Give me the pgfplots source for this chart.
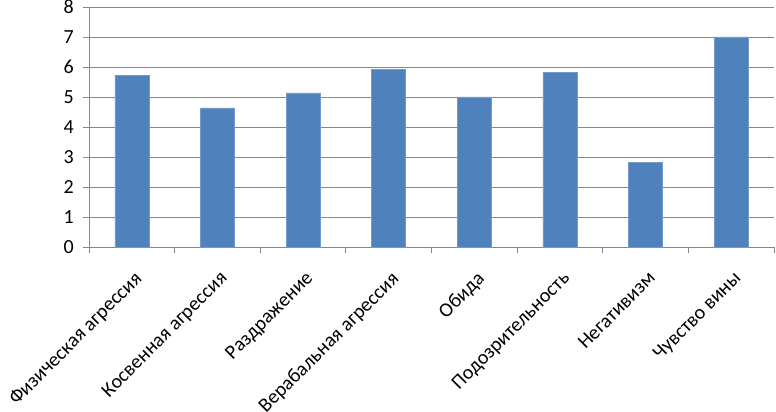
\documentclass[border=0pt]{standalone}
\usepackage{pgfplots}
\pgfplotsset{compat=1.18}
\usepackage{fontspec}
\setmainfont{Carlito}
\definecolor{barblue}{RGB}{79,129,189}
\definecolor{gridgray}{RGB}{134,134,134}
\begin{document}
\begin{tikzpicture}
\begin{axis}[
  name=ax,
  scale only axis,
  width=685pt, height=240pt,
  xmin=-0.5, xmax=7.5,
  ymin=0, ymax=8,
  ytick={0,1,...,8},
  xtick={0,1,...,7},
  xticklabels={Физическая агрессия,Косвенная агрессия,Раздражение,Верабальная агрессия,Обида,Подозрительность,Негативизм,Чувство вины},
  minor xtick={-0.5,0.5,...,7.5},
  major x tick style={draw=none},
  major tick length=6pt,
  minor tick length=6pt,
  tick align=outside,
  axis x line*=bottom,
  axis y line*=left,
  axis line style={gridgray, line width=0.8pt},
  every tick/.style={gridgray, line width=0.8pt},
  ymajorgrids,
  major grid style={gridgray, line width=0.8pt},
  ybar, bar width=34pt,
  /pgf/number format/assume math mode=true,
  ticklabel style={font=\fontsize{20}{23}\selectfont},
  xticklabel style={rotate=45, anchor=north east, inner sep=2pt, yshift=-11pt, xshift=-9pt},
  yticklabel style={inner sep=3pt, xshift=-6pt},
  clip=false,
]
\addplot[fill=barblue, draw=barblue!80!white] coordinates {
  (0,5.71) (1,4.64) (2,5.14) (3,5.91) (4,5.0) (5,5.83) (6,2.82) (7,7.0)
};
\end{axis}
\pgfresetboundingbox
\path ([xshift=-89pt,yshift=-165pt]ax.south west) rectangle ([xshift=2pt,yshift=7pt]ax.north east);
\end{tikzpicture}
\end{document}
